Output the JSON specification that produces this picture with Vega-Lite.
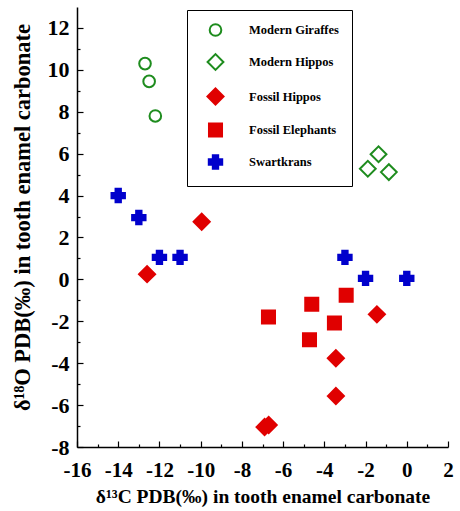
{
  "$schema": "https://vega.github.io/schema/vega-lite/v6.json",
  "width": 371,
  "height": 440,
  "autosize": {"type": "none"},
  "padding": {"left": 77, "top": 7, "right": 12, "bottom": 64},
  "background": "white",
  "config": {
    "view": {"stroke": null},
    "font": "Liberation Serif",
    "axis": {
      "domainColor": "black",
      "domainWidth": 1.5,
      "tickColor": "black",
      "tickWidth": 1.2,
      "grid": false,
      "labelFont": "Liberation Serif",
      "labelFontWeight": "bold",
      "labelColor": "black",
      "titleFont": "Liberation Serif",
      "titleFontWeight": "bold",
      "titleColor": "black"
    }
  },
  "data": {
    "values": [
      {"group": "Modern Giraffes", "d13C": -12.7, "d18O": 10.3},
      {"group": "Modern Giraffes", "d13C": -12.5, "d18O": 9.45},
      {"group": "Modern Giraffes", "d13C": -12.2, "d18O": 7.8},
      {"group": "Modern Hippos", "d13C": -1.37, "d18O": 5.97},
      {"group": "Modern Hippos", "d13C": -1.89, "d18O": 5.28},
      {"group": "Modern Hippos", "d13C": -0.87, "d18O": 5.12},
      {"group": "Fossil Hippos", "d13C": -9.95, "d18O": 2.75},
      {"group": "Fossil Hippos", "d13C": -12.6, "d18O": 0.25},
      {"group": "Fossil Hippos", "d13C": -1.45, "d18O": -1.67},
      {"group": "Fossil Hippos", "d13C": -3.44, "d18O": -3.76},
      {"group": "Fossil Hippos", "d13C": -3.44, "d18O": -5.57},
      {"group": "Fossil Hippos", "d13C": -6.9, "d18O": -7.05},
      {"group": "Fossil Hippos", "d13C": -6.7, "d18O": -6.95},
      {"group": "Fossil Elephants", "d13C": -2.94, "d18O": -0.76},
      {"group": "Fossil Elephants", "d13C": -4.61, "d18O": -1.19},
      {"group": "Fossil Elephants", "d13C": -6.71, "d18O": -1.8},
      {"group": "Fossil Elephants", "d13C": -3.51, "d18O": -2.08},
      {"group": "Fossil Elephants", "d13C": -4.72, "d18O": -2.88},
      {"group": "Swartkrans", "d13C": -14.0, "d18O": 4.0},
      {"group": "Swartkrans", "d13C": -13.0, "d18O": 2.95},
      {"group": "Swartkrans", "d13C": -12.0, "d18O": 1.05},
      {"group": "Swartkrans", "d13C": -11.0, "d18O": 1.05},
      {"group": "Swartkrans", "d13C": -3.0, "d18O": 1.05},
      {"group": "Swartkrans", "d13C": -2.0, "d18O": 0.05},
      {"group": "Swartkrans", "d13C": 0.0, "d18O": 0.05}
    ]
  },
  "mark": {"type": "point", "strokeWidth": 2, "opacity": 1},
  "encoding": {
    "x": {
      "field": "d13C",
      "type": "quantitative",
      "scale": {"domain": [-16, 2], "nice": false, "zero": false},
      "axis": {
        "title": "δ¹³C PDB(‰) in tooth enamel carbonate",
        "titleFontSize": 19.5,
        "labelFontSize": 21,
        "values": [-16,-15,-14,-13,-12,-11,-10,-9,-8,-7,-6,-5,-4,-3,-2,-1,0,1,2],
        "labelExpr": "datum.value % 2 === 0 ? '' + datum.value : ''",
        "tickSize": {"condition": {"test": "datum.value % 2 === 0", "value": -6}, "value": -3},
        "labelPadding": 18,
        "labelFlush": false,
        "labelOverlap": false,
        "titlePadding": 4
      }
    },
    "y": {
      "field": "d18O",
      "type": "quantitative",
      "scale": {"domain": [-8, 13], "nice": false, "zero": false},
      "axis": {
        "title": "δ¹⁸O PDB(‰) in tooth enamel carbonate",
        "titleFontSize": 22.5,
        "labelFontSize": 22,
        "values": [-8,-7,-6,-5,-4,-3,-2,-1,0,1,2,3,4,5,6,7,8,9,10,11,12],
        "labelExpr": "datum.value % 2 === 0 ? '' + datum.value : ''",
        "tickSize": {"condition": {"test": "datum.value % 2 === 0", "value": -6}, "value": -3},
        "labelPadding": 14,
        "labelFlush": false,
        "labelOverlap": false,
        "titlePadding": 13,
        "titleY": 210
      }
    },
    "shape": {
      "field": "group",
      "type": "nominal",
      "scale": {
        "domain": ["Modern Giraffes", "Modern Hippos", "Fossil Hippos", "Fossil Elephants", "Swartkrans"],
        "range": ["circle", "diamond", "diamond", "square", "cross"]
      },
      "legend": {
        "title": "\u00a0",
        "titleOrient": "right",
        "titlePadding": -4,
        "titleFontSize": 4,
        "orient": "none",
        "legendX": 110,
        "legendY": 3,
        "strokeColor": "black",
        "padding": 13,
        "rowPadding": 10,
        "symbolOffset": 6,
        "labelFont": "Liberation Serif",
        "labelFontWeight": "bold",
        "labelFontSize": 12.5,
        "labelColor": "black",
        "labelOffset": 24,
        "labelLimit": 300,
        "symbolStrokeWidth": 2
      }
    },
    "fill": {
      "field": "group",
      "type": "nominal",
      "scale": {
        "domain": ["Modern Giraffes", "Modern Hippos", "Fossil Hippos", "Fossil Elephants", "Swartkrans"],
        "range": ["transparent", "transparent", "#e00000", "#e00000", "#0000cc"]
      }
    },
    "stroke": {
      "field": "group",
      "type": "nominal",
      "scale": {
        "domain": ["Modern Giraffes", "Modern Hippos", "Fossil Hippos", "Fossil Elephants", "Swartkrans"],
        "range": ["#1e8c1e", "#1e8c1e", "#e00000", "#e00000", "#0000cc"]
      }
    },
    "size": {
      "field": "group",
      "type": "nominal",
      "scale": {
        "type": "ordinal",
        "domain": ["Modern Giraffes", "Modern Hippos", "Fossil Hippos", "Fossil Elephants", "Swartkrans"],
        "range": [135, 250, 260, 170, 180]
      }
    }
  }
}
